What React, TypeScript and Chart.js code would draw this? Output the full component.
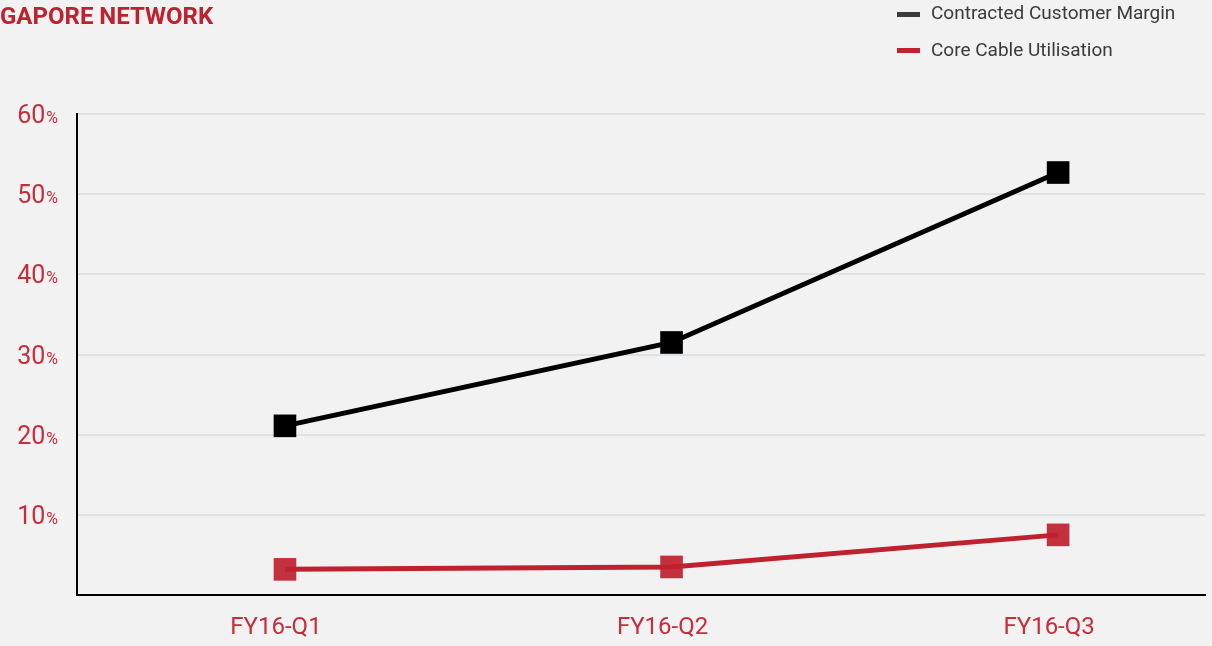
import React, { useEffect, useRef } from "react";
import { Chart, registerables } from "chart.js";

Chart.register(...registerables);

const TITLE = "GAPORE NETWORK";
const categories = ["FY16-Q1", "FY16-Q2", "FY16-Q3"];
const seriesNames = ["Contracted Customer Margin", "Core Cable Utilisation"];
const contractedMargin = [21.1, 31.5, 52.7];
const coreCableUtilisation = [3.2, 3.5, 7.5];
const yTickValues = [10, 20, 30, 40, 50, 60];

const RED = "#c0212f";
const LABEL_RED = "#c92c3b";
const FONT = 'Roboto, "Liberation Sans", sans-serif';

const overlayPlugin = {
  id: "overlay",
  afterDraw(chart: any) {
    const ctx = chart.ctx;
    ctx.save();
    // Title
    ctx.fillStyle = RED;
    ctx.font = `bold 24px ${FONT}`;
    ctx.textAlign = "left";
    ctx.textBaseline = "alphabetic";
    ctx.fillText(TITLE, 0, 24);

    // Legend
    const legendColors = ["#3c3c3c", RED];
    chart.data.datasets.forEach((ds: any, i: number) => {
      const cy = 14.5 + i * 36;
      ctx.fillStyle = legendColors[i];
      ctx.fillRect(897, cy - 2.5, 23, 5);
      ctx.fillStyle = "#3a3a3a";
      ctx.font = `19px ${FONT}`;
      ctx.textAlign = "left";
      ctx.textBaseline = "alphabetic";
      ctx.fillText(ds.label, 931, 19 + i * 37);
    });

    // Y tick labels with small percent sign
    const ys = chart.scales.y;
    yTickValues.forEach((v) => {
      const y = ys.getPixelForValue(v);
      ctx.fillStyle = LABEL_RED;
      ctx.textAlign = "right";
      ctx.textBaseline = "alphabetic";
      ctx.font = `16px ${FONT}`;
      const pw = ctx.measureText("%").width;
      ctx.fillText("%", 58, y + 9);
      ctx.font = `25px ${FONT}`;
      ctx.fillText(String(v), 58 - pw - 1, y + 9);
    });
    ctx.restore();
  },
};

export default function App() {
  const canvasRef = useRef<HTMLCanvasElement | null>(null);

  useEffect(() => {
    document.body.style.margin = "0";
    document.body.style.background = "#f2f2f2";
    const canvas = canvasRef.current;
    if (!canvas) return;
    const chart = new Chart(canvas, {
      type: "line",
      data: {
        datasets: [
          {
            label: seriesNames[0],
            data: contractedMargin.map((y, i) => ({ x: i, y })),
            borderColor: "#000000",
            backgroundColor: "#000000",
            borderWidth: 5,
            pointStyle: "rect",
            pointRadius: 16,
            pointHoverRadius: 16,
            pointBorderWidth: 0,
            pointBackgroundColor: "#000000",
            tension: 0,
          },
          {
            label: seriesNames[1],
            data: coreCableUtilisation.map((y, i) => ({ x: i, y })),
            borderColor: RED,
            backgroundColor: RED,
            borderWidth: 5,
            pointStyle: "rect",
            pointRadius: 16,
            pointHoverRadius: 16,
            pointBorderWidth: 0,
            pointBackgroundColor: "rgba(192,33,47,0.92)",
            tension: 0,
          },
        ],
      },
      options: {
        animation: false,
        responsive: false,
        maintainAspectRatio: false,
        events: [],
        layout: { autoPadding: false, padding: { top: 114, right: 7, left: 0, bottom: 0 } },
        plugins: {
          legend: { display: false },
          title: { display: false },
          tooltip: { enabled: false },
        },
        scales: {
          x: {
            type: "linear",
            position: "bottom",
            min: -0.538,
            max: 2.38,
            afterBuildTicks: (axis: any) => {
              axis.ticks = categories.map((_, i) => ({ value: i }));
            },
            afterFit: (axis: any) => {
              axis.height = 51;
              axis.paddingLeft = 0;
              axis.paddingRight = 0;
            },
            grid: { display: false, drawTicks: false },
            border: { display: true, color: "#000000", width: 2 },
            ticks: {
              autoSkip: false,
              maxRotation: 0,
              padding: 19,
              labelOffset: -9,
              color: LABEL_RED,
              font: { family: FONT, size: 24 },
              callback: (v: any) => categories[v] ?? "",
            },
          },
          y: {
            min: 0,
            max: 60,
            afterFit: (axis: any) => {
              axis.width = 77;
            },
            ticks: { stepSize: 10, display: false },
            grid: {
              drawTicks: false,
              lineWidth: 2,
              color: (c: any) => (c.tick && c.tick.value === 0 ? "rgba(0,0,0,0)" : "#dde2e7"),
            },
            border: { display: true, color: "#000000", width: 2 },
          },
        },
      },
      plugins: [overlayPlugin],
    } as any);
    return () => chart.destroy();
  }, []);

  return (
    <div style={{ width: 1212, height: 646, background: "#f2f2f2", position: "relative", overflow: "hidden" }}>
      <canvas ref={canvasRef} width={1212} height={646} style={{ display: "block", width: 1212, height: 646 }} />
    </div>
  );
}
